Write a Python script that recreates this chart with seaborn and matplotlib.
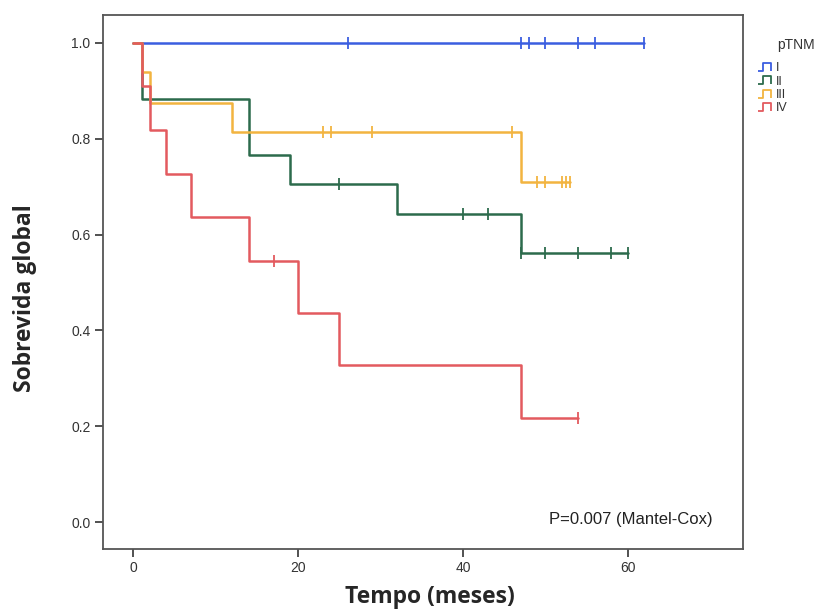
import numpy as np
import pandas as pd
import matplotlib
matplotlib.use("Agg")
import matplotlib.pyplot as plt
from matplotlib.lines import Line2D
from matplotlib.path import Path
import seaborn as sns

# step times (months) and survival after each step, plus censored times
groups = ["I", "II", "III", "IV"]
colors = ["#3b5ee0", "#2c6b4c", "#f2b440", "#e35a5f"]

t_I = [0, 62]
s_I = [1.0, 1.0]
cens_I = [26, 47, 48, 50, 54, 56, 62]

t_II = [0, 1, 14, 19, 32, 47, 60]
s_II = [1.0, 0.882, 0.765, 0.706, 0.643, 0.561, 0.561]
cens_II = [25, 40, 43, 47, 50, 54, 58, 60]

t_III = [0, 1, 2, 12, 47, 53]
s_III = [1.0, 0.938, 0.875, 0.813, 0.710, 0.710]
cens_III = [23, 24, 29, 46, 49, 50, 52, 52.5, 53]

t_IV = [0, 1, 2, 4, 7, 14, 20, 25, 47, 54]
s_IV = [1.0, 0.909, 0.818, 0.727, 0.636, 0.545, 0.436, 0.327, 0.218, 0.218]
cens_IV = [17, 54]

steps = {"I": (t_I, s_I), "II": (t_II, s_II), "III": (t_III, s_III), "IV": (t_IV, s_IV)}
cens = {"I": cens_I, "II": cens_II, "III": cens_III, "IV": cens_IV}

rows = []
for g in groups:
    for t, s in zip(*steps[g]):
        rows.append({"grupo": g, "tempo": t, "surv": s})
df = pd.DataFrame(rows)

sns.set_style("white")
plt.rcParams['font.family'] = ['Liberation Sans', 'DejaVu Sans']

fig = plt.figure(figsize=(8.26, 6.11), dpi=100)
ax = fig.add_axes([0.1247, 0.1015, 0.7748, 0.874])

for g, c in zip(groups, colors):
    d = df[df["grupo"] == g]
    ax.step(d["tempo"], d["surv"], where="post", color=c, lw=1.8, zorder=3)
    # censor marks on the curve
    tt, ss = steps[g]
    cy = [ss[np.searchsorted(tt, x, side="right") - 1] for x in cens[g]]
    ax.plot(cens[g], cy, ls="none", marker="|", ms=8, mew=1.3, color=c, zorder=4)

ax.set_xlim(-3.7, 74)
ax.set_ylim(-0.056, 1.058)
ax.set_xticks([0, 20, 40, 60])
ax.set_yticks([0.0, 0.2, 0.4, 0.6, 0.8, 1.0])
ax.set_yticklabels(["0.0", "0.2", "0.4", "0.6", "0.8", "1.0"])
ax.tick_params(axis="both", direction="out", length=6, width=1.2, color="#333333",
               labelsize=10, labelcolor="#333333", left=True, bottom=True, pad=3)
for sp in ax.spines.values():
    sp.set_color("#555555")
    sp.set_linewidth(1.3)

ax.set_xlabel("Tempo (meses)", fontsize=16.5, fontweight="bold",
              family=["Open Sans", "DejaVu Sans"], va="center")
ax.xaxis.set_label_coords(0.511, -0.089)
ax.set_ylabel("Sobrevida global", fontsize=16.5, fontweight="bold",
              family=["Open Sans", "DejaVu Sans"], va="center")
ax.yaxis.set_label_coords(-0.122, 0.47)

ax.text(0.952, 0.056, "P=0.007 (Mantel-Cox)", transform=ax.transAxes,
        ha="right", va="center", fontsize=12, color="#222222")

# legend with small step-shaped icons, title placed separately
fig.text(0.964, 0.926, "pTNM", ha="center", va="center", fontsize=10, color="#333333")
icon = Path([(-1.0, -0.5), (-0.4, -0.5), (-0.4, 0.5), (0.6, 0.5), (0.6, -0.5)],
            [Path.MOVETO, Path.LINETO, Path.LINETO, Path.LINETO, Path.LINETO])
handles = [Line2D([], [], ls="none", marker=icon, ms=12, mew=1.3,
                  markeredgecolor=c, markerfacecolor="none") for c in colors]
leg = fig.legend(handles, groups, loc="upper left",
                 bbox_to_anchor=(0.9135, 0.906), frameon=False, fontsize=9,
                 handlelength=1.0, handletextpad=0.3,
                 labelspacing=0.1, borderaxespad=0)
for txt in leg.get_texts():
    txt.set_color("#333333")

fig.savefig("out.png", dpi=100)
